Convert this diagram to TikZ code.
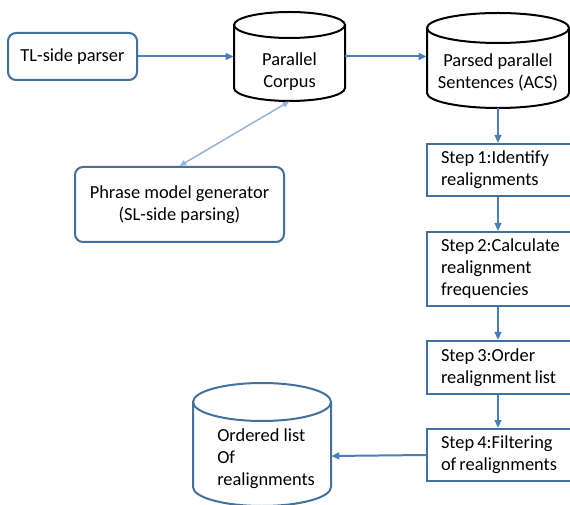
\documentclass[tikz,border=0pt]{standalone}
\usepackage{fontspec}
\setmainfont{Carlito}
\usetikzlibrary{arrows.meta}
\definecolor{boxblue}{HTML}{41719C}
\definecolor{arrblue}{HTML}{4A7EBB}
\definecolor{lightblue}{HTML}{95B3D7}
\newcommand\tightspacing{\spaceskip=0.17em plus 0.1em minus 0.05em\relax}
\tikzset{
  every node/.style={font=\fontsize{13.8pt}{16.5pt}\selectfont},
  roundbox/.style={draw=boxblue, line width=1.5pt, rounded corners=6pt, align=center, inner sep=0pt},
  stepbox/.style={draw=boxblue, line width=1.5pt, anchor=north west, align=left, text width=130pt, inner xsep=10.5pt, inner ysep=0pt, minimum width=151pt,
    execute at begin node=\tightspacing},
  cylarea/.style={inner sep=0pt},
  cyltext/.style={inner sep=0pt, align=center},
  flow/.style={draw=arrblue, line width=1.5pt, -{Triangle[length=6pt,width=5pt]}},
  lightflow/.style={draw=lightblue, line width=1.1pt, {Triangle[length=5pt,width=4pt]}-{Triangle[length=5pt,width=4pt]}},
}
% #1 x1, #2 x2, #3 ytop, #4 ybot, #5 ry, #6 colour
\newcommand\mycyl[6]{%
  \pgfmathsetmacro\cx{(#1+#2)/2}%
  \pgfmathsetmacro\rx{(#2-#1)/2}%
  \pgfmathsetmacro\ya{#3+#5}%
  \pgfmathsetmacro\yb{#4-#5}%
  \fill[white] (#1,\ya) -- (#1,\yb) arc[start angle=180,end angle=0,x radius=\rx,y radius=#5] -- (#2,\ya) arc[start angle=0,end angle=-180,x radius=\rx,y radius=#5] -- cycle;
  \draw[draw=#6, line width=1.5pt] (\cx,\ya) ellipse[x radius=\rx, y radius=#5];
  \draw[draw=#6, line width=1.5pt] (#1,\ya) -- (#1,\yb) arc[start angle=180,end angle=0,x radius=\rx,y radius=#5] -- (#2,\ya);
}
\begin{document}
\begin{tikzpicture}[x=0.75pt,y=-0.75pt]
\useasboundingbox (0,0) rectangle (570,505);
\clip (0,0) rectangle (570,505);
\fill[white] (0,0) rectangle (570,505);

% cylinders
\mycyl{234}{345}{12}{101}{13}{black}
\node[cylarea, minimum width=83.25pt, minimum height=66.75pt] (pc) at (289.5,56.5) {};
\node[cyltext] (pct) at (289.5,72) {Parallel\\Corpus};

\mycyl{427}{569}{13}{108}{15}{black}
\node[cylarea, minimum width=106.5pt, minimum height=71.25pt] (ps) at (498,60.5) {};
\node[cyltext] (pst) at (498,72) {Parsed parallel\\Sentences (ACS)};

\mycyl{193}{331}{383}{506}{19}{boxblue}
\node[cylarea, minimum width=103.5pt, minimum height=92.25pt] (oc) at (262,444.5) {};
\node[cyltext, anchor=west, align=left] (oct) at (217,459) {Ordered list\\Of\\realignments};

% boxes
\node[roundbox, minimum width=96.75pt, minimum height=35.25pt] (tl) at (72.5,56.5) {TL-side parser};
\node[roundbox, minimum width=156.75pt, minimum height=56.25pt] (pm) at (179.5,204.5) {Phrase model generator\\(SL-side parsing)};

\node[stepbox, minimum height=39pt] (s1) at (426,143) {Step 1:Identify\\realignments};
\node[stepbox, minimum height=55.5pt] (s2) at (426,231) {Step 2:Calculate\\realignment\\frequencies};
\node[stepbox, minimum height=39.75pt] (s3) at (426,340) {Step 3:Order\\realignment list};
\node[stepbox, minimum height=39pt] (s4) at (426,428) {Step 4:Filtering\\of realignments};

% connectors
\draw[flow] (tl.east) -- (tl.east -| pc.west);
\draw[flow] (pc.east) -- (pc.east -| ps.west);
\draw[lightflow] (pm.north) -- (pc.south);
\draw[flow] (ps.south) -- (ps.south |- s1.north);
\draw[flow] (ps.south |- s1.south) -- (ps.south |- s2.north);
\draw[flow] (ps.south |- s2.south) -- (ps.south |- s3.north);
\draw[flow] (ps.south |- s3.south) -- (ps.south |- s4.north);
\draw[flow] (s4.west) -- ([yshift=-0.75pt]oc.east |- s4.west);
\end{tikzpicture}
\end{document}
